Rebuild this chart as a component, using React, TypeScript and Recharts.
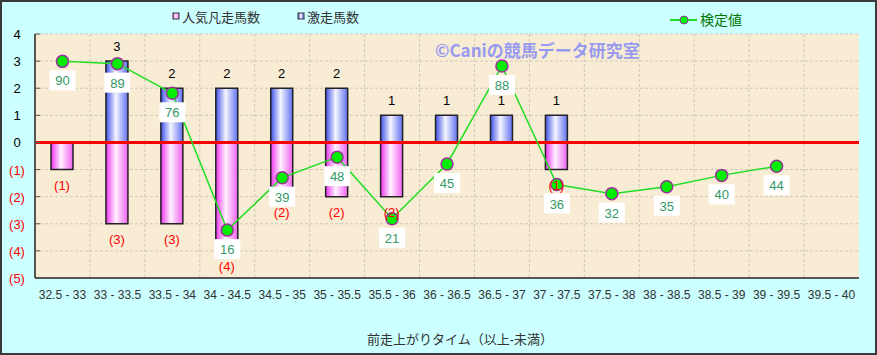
import React from 'react';
import {
  ComposedChart, Bar, Line, XAxis, YAxis, CartesianGrid, ReferenceLine, LabelList,
} from 'recharts';

const categories = [
  '32.5 - 33', '33 - 33.5', '33.5 - 34', '34 - 34.5', '34.5 - 35', '35 - 35.5', '35.5 - 36',
  '36 - 36.5', '36.5 - 37', '37 - 37.5', '37.5 - 38', '38 - 38.5', '38.5 - 39', '39 - 39.5', '39.5 - 40',
];
// 激走馬数 (above zero)
const gekisou = [0, 3, 2, 2, 2, 2, 1, 1, 1, 1, 0, 0, 0, 0, 0];
// 人気凡走馬数 (below zero)
const bonsou = [-1, -3, -3, -4, -2, -2, -2, 0, 0, -1, 0, 0, 0, 0, 0];
// 検定値
const kentei: (number | null)[] = [90, 89, 76, 16, 39, 48, 21, 45, 88, 36, 32, 35, 40, 44, null];
const yTicks = [-5, -4, -3, -2, -1, 0, 1, 2, 3, 4];

const data = categories.map((cat, i) => ({
  cat,
  gekisou: gekisou[i],
  bonsou: bonsou[i],
  kentei: kentei[i],
}));

const FONT = '"Liberation Sans", "Noto Sans CJK JP", sans-serif';

const YTick = (props: any) => {
  const { x, y, payload } = props;
  const v = payload.value;
  return (
    <g>
      <line x1={x} x2={x + 5} y1={y} y2={y} stroke="#555" strokeWidth={1} />
      <text x={17} y={y} dy={5} textAnchor="middle" fontSize={13} fontFamily={FONT}
        fill={v < 0 ? '#FF0000' : '#000'}>
        {v < 0 ? `(${-v})` : v}
      </text>
    </g>
  );
};

const XTick = (props: any) => {
  const { x, y, payload } = props;
  return (
    <text x={x} y={y + 21} textAnchor="middle" fontSize={12} fontFamily={FONT} fill="#333">
      {payload.value}
    </text>
  );
};

const posLabel = (props: any) => {
  const { x, y, width, height, value } = props;
  if (!value) return null;
  const top = Math.min(y, y + height);
  return (
    <text x={x + width / 2} y={top - 10} textAnchor="middle" fontSize={13} fontFamily={FONT} fill="#000">
      {value}
    </text>
  );
};

const negLabel = (props: any) => {
  const { x, y, width, height, value } = props;
  if (!value) return null;
  const bottom = Math.max(y, y + height);
  return (
    <text x={x + width / 2} y={bottom + 20} textAnchor="middle" fontSize={13} fontFamily={FONT} fill="#FF0000">
      {`(${-value})`}
    </text>
  );
};

const lineLabel = (props: any) => {
  const { x, y, value } = props;
  if (value == null) return null;
  return (
    <g>
      <rect x={x - 13} y={y + 9} width={26} height={20} fill="#FFFFFF" />
      <text x={x} y={y + 24} textAnchor="middle" fontSize={13} fontFamily={FONT} fill="#339966">
        {value}
      </text>
    </g>
  );
};

const Legend = () => (
  <div style={{ position: 'absolute', left: 0, top: 0, width: 877, height: 34, fontFamily: FONT }}>
    <svg width={877} height={34} style={{ position: 'absolute', left: 0, top: 0 }}>
      <rect x={173} y={13} width={6} height={6} fill="url(#gPink)" stroke="#333" strokeWidth={1} />
      <rect x={298} y={13} width={6} height={6} fill="url(#gBlue)" stroke="#333" strokeWidth={1} />
      <line x1={670} x2={697} y1={20} y2={20} stroke="#22DD22" strokeWidth={2} />
      <circle cx={684} cy={20} r={4} fill="#00EE00" stroke="#993399" strokeWidth={1} />
      <text x={182} y={22} fontSize={13} fill="#333">人気凡走馬数</text>
      <text x={307} y={22} fontSize={13} fill="#333">激走馬数</text>
      <text x={700} y={25} fontSize={14} fill="#007700">検定値</text>
    </svg>
  </div>
);

export default function App() {
  return (
    <div style={{ position: 'relative', width: 877, height: 355, background: '#CCFFFF', fontFamily: FONT }}>
      <style>{'body{margin:0}'}</style>
      <ComposedChart
        width={877}
        height={355}
        data={data}
        stackOffset="sign"
        margin={{ top: 34, right: 18, left: 0, bottom: 0 }}
      >
        <defs>
          <linearGradient id="gBlue" x1="0" y1="0" x2="1" y2="0">
            <stop offset="0" stopColor="#4050E8" />
            <stop offset="0.45" stopColor="#F4F6FF" />
            <stop offset="1" stopColor="#6070F0" />
          </linearGradient>
          <linearGradient id="gPink" x1="0" y1="0" x2="1" y2="0">
            <stop offset="0" stopColor="#EE33EE" />
            <stop offset="0.45" stopColor="#FFF2FF" />
            <stop offset="1" stopColor="#F060F0" />
          </linearGradient>
        </defs>
        <CartesianGrid
          fill="#F9ECD5"
          fillOpacity={1}
          stroke="#D2C8B8"
          strokeDasharray="3 2"
          verticalCoordinatesGenerator={({ offset }: any) =>
            Array.from({ length: categories.length - 1 }, (_, i) =>
              offset.left + ((i + 1) * offset.width) / categories.length)}
        />
        <XAxis
          dataKey="cat"
          interval={0}
          height={77}
          tickSize={0}
          tickMargin={0}
          tickLine={false}
          tick={<XTick />}
          axisLine={{ stroke: '#555', strokeWidth: 2 }}
          label={{
            content: () => (
              <text x={460} y={344} textAnchor="middle" fontSize={13} fontFamily={FONT} fill="#333">
                前走上がりタイム（以上-未満）
              </text>
            ),
          }}
        />
        <XAxis xAxisId="top" dataKey="cat" orientation="top" height={0} tick={false} tickLine={false}
          axisLine={{ stroke: '#999', strokeWidth: 1 }} />
        <YAxis
          domain={[-5, 4]}
          ticks={yTicks}
          interval={0}
          width={35}
          tickSize={0}
          tickMargin={0}
          tickLine={false}
          tick={<YTick />}
          axisLine={{ stroke: '#555', strokeWidth: 2 }}
        />
        <YAxis yAxisId="right" orientation="right" domain={[-5, 102]} width={0} tick={false}
          tickLine={false} axisLine={{ stroke: '#999', strokeWidth: 1 }} />
        <Bar dataKey="gekisou" stackId="s" barSize={22} fill="url(#gBlue)" stroke="#222" strokeWidth={1.5}
          isAnimationActive={false}>
          <LabelList dataKey="gekisou" content={posLabel} />
        </Bar>
        <Bar dataKey="bonsou" stackId="s" barSize={22} fill="url(#gPink)" stroke="#222" strokeWidth={1.5}
          isAnimationActive={false}>
          <LabelList dataKey="bonsou" content={negLabel} />
        </Bar>
        <ReferenceLine y={0} stroke="#FF0000" strokeWidth={3} />
        <Line
          yAxisId="right"
          dataKey="kentei"
          stroke="#22DD22"
          strokeWidth={1.5}
          dot={{ r: 6, fill: '#00EE00', stroke: '#993399', strokeWidth: 1.5 }}
          activeDot={false}
          isAnimationActive={false}
        >
          <LabelList dataKey="kentei" content={lineLabel} />
        </Line>
      </ComposedChart>
      <Legend />
      <div style={{
        position: 'absolute', left: 435, top: 40, fontSize: 17, fontWeight: 'bold',
        color: '#8E92F2', opacity: 0.9, fontFamily: '"Noto Sans CJK JP", sans-serif', whiteSpace: 'nowrap',
        lineHeight: '20px',
      }}>
        ©Caniの競馬データ研究室
      </div>
      <div style={{
        position: 'absolute', left: 0, top: 0, width: 877, height: 355, boxSizing: 'border-box',
        border: '2px solid #3A3A3A', pointerEvents: 'none',
      }} />
    </div>
  );
}
